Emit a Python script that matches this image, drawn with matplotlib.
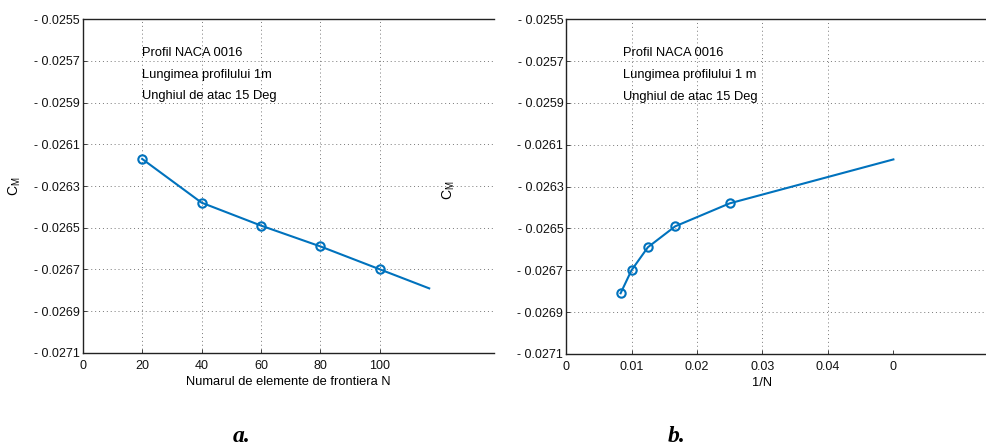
import matplotlib
matplotlib.use("Agg")
import matplotlib.pyplot as plt

plt.rcParams["font.family"] = ["Liberation Sans", "DejaVu Sans"]
plt.rcParams["mathtext.fontset"] = "custom"
plt.rcParams["mathtext.rm"] = "Liberation Sans"

# data
N = [20, 40, 60, 80, 100, 120]
cm = [-0.02617, -0.02638, -0.02649, -0.02659, -0.02670, -0.02681]
inv_N = [1.0 / n for n in N]

# markers shown in each panel
left_marked = [20, 40, 60, 80, 100]
right_marked = [40, 60, 80, 100, 120]

y_ticks = [-0.0255, -0.0257, -0.0259, -0.0261, -0.0263, -0.0265,
           -0.0267, -0.0269, -0.0271]
y_labels = ["- %.4f" % abs(v) for v in y_ticks]

left_xticks = [0, 20, 40, 60, 80, 100]
right_xticks = [0, 0.01, 0.02, 0.03, 0.04, 0.05]
right_xlabels = ["0", "0.01", "0.02", "0.03", "0.04", "0"]

info = ["Profil NACA 0016", "Lungimea profilului 1m", "Unghiul de atac 15 Deg"]
info_b = ["Profil NACA 0016", "Lungimea profilului 1 m", "Unghiul de atac 15 Deg"]

blue = "#0072BD"
grey = "#222222"

fig = plt.figure(figsize=(9.87, 4.46), dpi=100)
ax1 = fig.add_axes([0.0838, 0.2092, 0.4170, 0.7475])
ax2 = fig.add_axes([0.5735, 0.2065, 0.4265, 0.7502])


def style(ax):
    ax.set_ylim(-0.0271, -0.0255)
    ax.set_yticks(y_ticks)
    ax.set_yticklabels(y_labels)
    ax.spines["right"].set_visible(False)
    for s in ["left", "bottom", "top"]:
        ax.spines[s].set_linewidth(1.0)
        ax.spines[s].set_color(grey)
    ax.tick_params(direction="in", length=3, width=0.6, labelsize=9,
                   colors=grey, labelcolor="#111111")
    ax.tick_params(axis="y", pad=2)
    ax.tick_params(axis="x", pad=5)
    ax.grid(axis="y", linestyle=(0, (1, 3)), color="#777777", linewidth=0.7)


# panel a
style(ax1)
ax1.set_xlim(0, 138.5)
ax1.set_xticks(left_xticks)
for x in left_xticks[1:]:
    ax1.axvline(x, linestyle=(0, (1, 3)), color="#777777", linewidth=0.7, zorder=0)
ax1.plot(N[:-1] + [116.6], cm[:-1] + [cm[-2] + (cm[-1] - cm[-2]) * 0.83],
         color=blue, linewidth=1.5)
ax1.plot(left_marked, [cm[N.index(n)] for n in left_marked], "o", color=blue,
         markerfacecolor="none", markersize=6, markeredgewidth=1.5)
ax1.set_xlabel("Numarul de elemente de frontiera N", fontsize=9.3)
ax1.xaxis.set_label_coords(0.5, -0.069)
ax1.set_ylabel(r"C$_\mathregular{M}$", fontsize=10)
ax1.yaxis.set_label_coords(-0.146, 0.5)
for i, t in enumerate(info):
    ax1.text(20, -0.02566 - i * 0.000105, t, fontsize=9.3, va="center", ha="left")

# panel b
style(ax2)
ax2.set_xlim(0, 0.0643)
ax2.set_xticks(right_xticks)
ax2.set_xticklabels(right_xlabels)
for x in right_xticks[1:-1]:
    ax2.axvline(x, linestyle=(0, (1, 3)), color="#777777", linewidth=0.7, zorder=0)
ax2.plot(inv_N, cm, color=blue, linewidth=1.5)
ax2.plot([1.0 / n for n in right_marked], [cm[N.index(n)] for n in right_marked],
         "o", color=blue, markerfacecolor="none", markersize=6, markeredgewidth=1.5)
ax2.set_xlabel("1/N", fontsize=9.3)
ax2.xaxis.set_label_coords(0.466, -0.069)
ax2.set_ylabel(r"C$_\mathregular{M}$", fontsize=10)
ax2.yaxis.set_label_coords(-0.259, 0.49)
for i, t in enumerate(info_b):
    ax2.text(0.0087, -0.02566 - i * 0.000105, t, fontsize=9.3, va="center", ha="left")

# captions
fig.text(0.245, -0.003, "a.", fontsize=17, fontweight="bold", style="italic",
         family="Liberation Serif", ha="center", va="bottom")
fig.text(0.685, -0.003, "b.", fontsize=17, fontweight="bold", style="italic",
         family="Liberation Serif", ha="center", va="bottom")

fig.savefig("out.png", dpi=100)
